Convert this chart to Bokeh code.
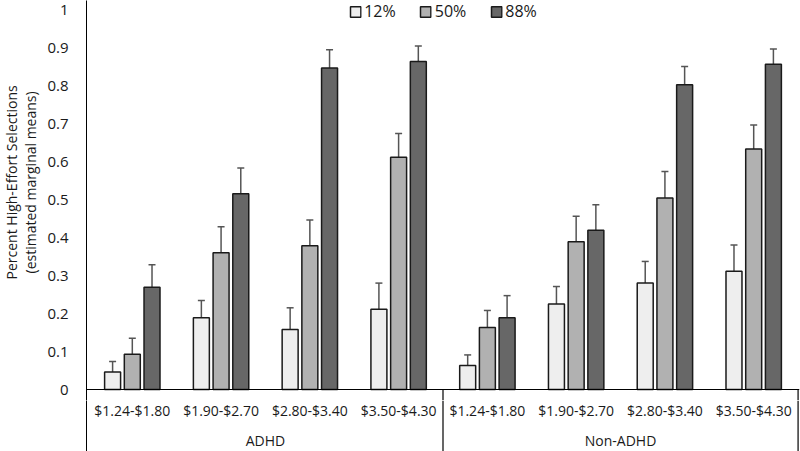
from bokeh.plotting import figure
from bokeh.layouts import column, row
from bokeh.models import (ColumnDataSource, FactorRange, Range1d, FixedTicker, Whisker, TeeHead,
                          Span, Legend, CustomJSTickFormatter)
from bokeh.transform import dodge
from bokeh.core.properties import value
from bokeh.embed import file_html
from bokeh.resources import INLINE
import math

# ---------------- data ----------------
groups = ["ADHD", "Non-ADHD"]
price_ranges = ["$1.24-$1.80", "$1.90-$2.70", "$2.80-$3.40", "$3.50-$4.30"]
probabilities = ["12%", "50%", "88%"]

# estimated marginal means (ADHD x 4 price ranges, then Non-ADHD x 4)
p12 = [0.046, 0.189, 0.158, 0.211, 0.063, 0.225, 0.280, 0.311]
p50 = [0.093, 0.360, 0.378, 0.611, 0.163, 0.389, 0.504, 0.633]
p88 = [0.269, 0.515, 0.846, 0.863, 0.189, 0.419, 0.802, 0.856]
# upper ends of error bars
p12_upper = [0.074, 0.234, 0.215, 0.280, 0.091, 0.271, 0.337, 0.380]
p50_upper = [0.135, 0.428, 0.446, 0.674, 0.208, 0.456, 0.574, 0.696]
p88_upper = [0.328, 0.583, 0.894, 0.904, 0.247, 0.486, 0.850, 0.896]

y_ticks = [0, 0.1, 0.2, 0.3, 0.4, 0.5, 0.6, 0.7, 0.8, 0.9, 1]
y_title_lines = ["Percent High-Effort Selections", "(estimated marginal means)"]

# ---------------- styling ----------------
FONT = "Open Sans"
TEXT = "#1a1a1a"
fills = ["#eeeeee", "#b1b1b1", "#676767"]
offsets = [-0.222, 0.0, 0.222]
BAR_W = 0.18
TITLE_W = 44
W = 800 - TITLE_W
LEFT = 36
TOP_H = 400
BOT_H = 51

factors = [(g, r) for g in groups for r in price_ranges]
src = ColumnDataSource(dict(
    x=factors, p12=p12, p50=p50, p88=p88,
    p12_upper=p12_upper, p50_upper=p50_upper, p88_upper=p88_upper,
    label=[r for g in groups for r in price_ranges],
))

xr = FactorRange(*factors, group_padding=0, subgroup_padding=0, range_padding=0.004)

SCALE = 380.0
y_lo, y_hi = -11 / SCALE, 1 + 9 / SCALE
yr = Range1d(y_lo, y_hi)

# ---------------- main plot ----------------
p = figure(x_range=xr, y_range=yr,
           width=W, height=TOP_H, output_backend="svg", toolbar_location=None,
           min_border_left=LEFT, min_border_right=1, min_border_top=0, min_border_bottom=0)
p.outline_line_color = None
p.xgrid.visible = False
p.ygrid.visible = False
p.xaxis.visible = False

yax = p.yaxis[0]
yax.ticker = FixedTicker(ticks=y_ticks)
yax.formatter = CustomJSTickFormatter(code="return String(Math.round(tick*10)/10);")
yax.major_tick_line_color = None
yax.minor_tick_line_color = None
yax.axis_line_color = "black"
yax.axis_line_width = 1
yax.major_label_standoff = 12
yax.major_label_text_font = FONT
yax.major_label_text_font_size = "15px"
yax.major_label_text_color = TEXT

cols = ["p12", "p50", "p88"]
legend_items = []
for col, off, fc, lab in zip(cols, offsets, fills, probabilities):
    r = p.vbar(x=dodge("x", off, range=xr), top=col, width=BAR_W, bottom=0, source=src,
               fill_color=fc, line_color="#1a1a1a", line_width=1.5)
    legend_items.append((lab, [r]))
    w = Whisker(base=dodge("x", off, range=xr), lower=col, upper=col + "_upper", source=src,
                dimension="height", line_color="#555555", line_width=1.5,
                upper_head=TeeHead(size=7, line_color="#555555", line_width=1.5), lower_head=None)
    p.add_layout(w)

# zero line
p.add_layout(Span(location=0, dimension="width", line_color="black", line_width=1))

n = len(price_ranges)
bounds = [n * (i + 1) for i in range(len(groups))]
p.segment(x0=bounds, y0=[0] * len(bounds), x1=bounds, y1=[y_lo] * len(bounds),
          line_color="black", line_width=1.2)

legend = Legend(items=legend_items, orientation="horizontal", location="top_center",
                border_line_color=None, background_fill_alpha=0, margin=0, padding=15,
                glyph_width=13, glyph_height=13, spacing=23, label_standoff=3,
                label_text_font=FONT, label_text_font_size="16px", label_text_color=TEXT)
p.add_layout(legend)

# ---------------- category strip below the axis ----------------
b = figure(x_range=xr, y_range=Range1d(-BOT_H, 0),
           width=W, height=BOT_H, output_backend="svg", toolbar_location=None,
           min_border_left=LEFT, min_border_right=1, min_border_top=0, min_border_bottom=0)
b.outline_line_color = None
b.xgrid.visible = False
b.ygrid.visible = False
b.xaxis.visible = False
bax = b.yaxis[0]
bax.ticker = FixedTicker(ticks=[])
bax.major_tick_line_color = None
bax.minor_tick_line_color = None
bax.major_label_text_font_size = "0px"
bax.axis_line_color = "black"
bax.axis_line_width = 1

b.segment(x0=bounds, y0=[0] * len(bounds), x1=bounds, y1=[-BOT_H] * len(bounds),
          line_color="black", line_width=1.2)
b.text(x="x", y=-10, text="label", source=src, text_font=value(FONT), text_font_size="14px",
       text_color=TEXT, text_align="center", text_baseline="middle")
b.text(x=groups, y=[-40] * len(groups), text=groups, text_font=value(FONT), text_font_size="14px",
       text_color=TEXT, text_align="center", text_baseline="middle")

# ---------------- y-axis title column ----------------
t = figure(x_range=Range1d(0, TITLE_W), y_range=yr, width=TITLE_W, height=TOP_H,
           output_backend="svg", toolbar_location=None,
           min_border_left=0, min_border_right=0, min_border_top=0, min_border_bottom=0)
t.axis.visible = False
t.grid.visible = False
t.outline_line_color = None
t.text(x=[10.5, 29.5], y=[0.545, 0.545], text=y_title_lines, angle=math.pi / 2,
       text_font=value(FONT), text_font_size="14px", text_color=TEXT,
       text_align="center", text_baseline="middle")

layout = row(t, column(p, b, spacing=0), spacing=0)
open("out.html", "w").write(file_html(layout, INLINE))
